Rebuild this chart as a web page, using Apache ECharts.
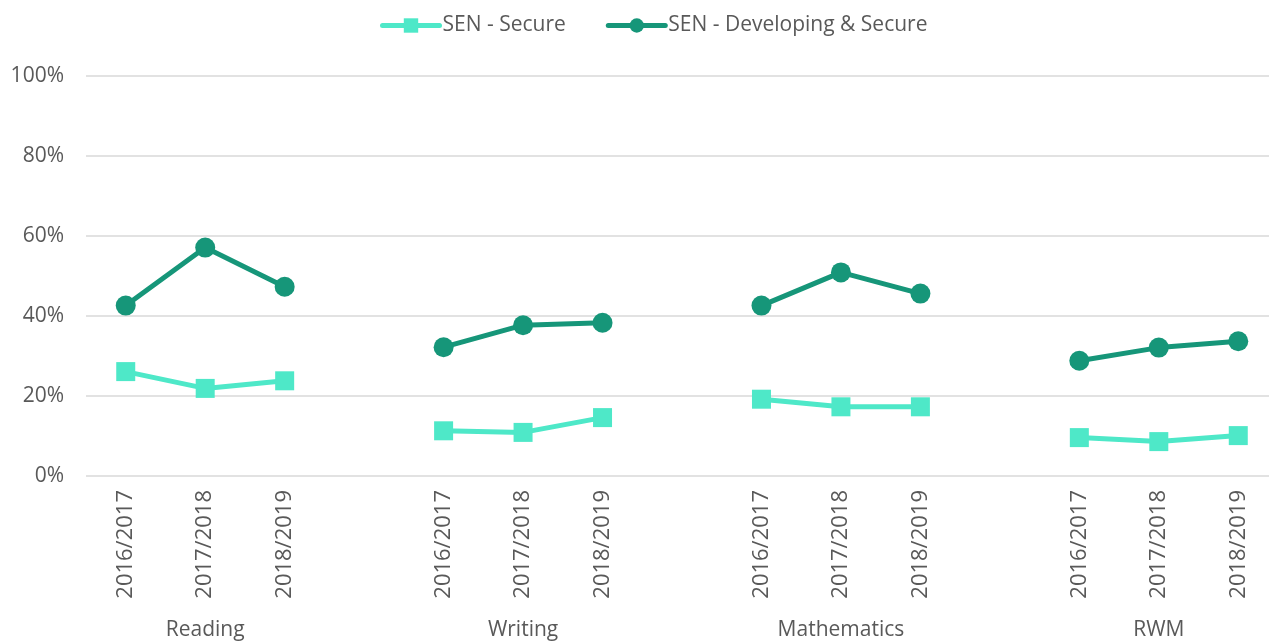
<!DOCTYPE html>
<html>
<head>
<meta charset="utf-8">
<script src="https://cdn.jsdelivr.net/npm/echarts@6/dist/echarts.min.js"></script>
<style>html,body{margin:0;padding:0;background:#fff;overflow:hidden;width:1269px;height:642px;}#chart{width:1290px;height:642px;}</style>
</head>
<body>
<div id="chart"></div>
<script>
var groups = ['Reading', 'Writing', 'Mathematics', 'RWM'];
var years = ['2016/2017', '2017/2018', '2018/2019'];
var secureValues = [26.1, 21.9, 23.8, 11.3, 10.9, 14.6, 19.2, 17.3, 17.3, 9.6, 8.6, 10.1];
var devSecureValues = [42.6, 57.1, 47.3, 32.2, 37.7, 38.3, 42.6, 50.9, 45.6, 28.8, 32.1, 33.7];
var yTicks = [0, 20, 40, 60, 80, 100];

var yearCats = [], groupCats = [], secData = [], devData = [];
groups.forEach(function (g, gi) {
  years.forEach(function (y, yi) {
    yearCats.push(y);
    groupCats.push(yi === 1 ? g : ' ');
    secData.push(secureValues[gi * years.length + yi]);
    devData.push(devSecureValues[gi * years.length + yi]);
  });
  if (gi < groups.length - 1) {
    yearCats.push(' ');
    groupCats.push(' ');
    secData.push(null);
    devData.push(null);
  }
});

var FONT = 'Open Sans';
var TXT = '#595959';
var chart = echarts.init(document.getElementById('chart'));
chart.setOption({
  animation: false,
  textStyle: { fontFamily: FONT, color: TXT },
  legend: {
    top: 10,
    left: 375,
    itemWidth: 57,
    itemHeight: 18,
    itemGap: 40,
    lineStyle: { width: 5, cap: 'round' },
    textStyle: { fontFamily: FONT, fontSize: 21, color: TXT, padding: [0, 0, 0, -2] },
    data: ['SEN - Secure', 'SEN - Developing & Secure']
  },
  grid: { left: 86, top: 76, width: 1192, height: 400 },
  xAxis: [{
    type: 'category',
    data: yearCats,
    boundaryGap: true,
    axisLine: { show: false },
    axisTick: { show: false },
    axisLabel: { interval: 0, rotate: 90, fontSize: 22, color: TXT, margin: 14, fontFamily: FONT }
  }, {
    type: 'category',
    data: groupCats,
    position: 'bottom',
    offset: 136,
    boundaryGap: true,
    axisLine: { show: false },
    axisTick: { show: false },
    axisLabel: { interval: 0, fontSize: 21, color: TXT, margin: 8, fontFamily: FONT }
  }],
  yAxis: {
    type: 'value',
    min: yTicks[0],
    max: yTicks[yTicks.length - 1],
    interval: yTicks[1] - yTicks[0],
    axisLine: { show: false },
    axisTick: { show: false },
    axisLabel: { formatter: '{value}%', fontSize: 21, color: TXT, margin: 22, fontFamily: FONT },
    splitLine: { lineStyle: { color: '#d9d9d9', width: 1.5 } }
  },
  series: [{
    name: 'SEN - Secure',
    type: 'line',
    xAxisIndex: 0,
    data: secData,
    connectNulls: false,
    symbol: 'rect',
    symbolSize: 19,
    lineStyle: { color: '#4ee8c8', width: 5 },
    itemStyle: { color: '#4ee8c8' }
  }, {
    name: 'SEN - Developing & Secure',
    type: 'line',
    xAxisIndex: 0,
    data: devData,
    connectNulls: false,
    symbol: 'circle',
    symbolSize: 20,
    lineStyle: { color: '#169679', width: 5 },
    itemStyle: { color: '#169679' }
  }]
});
</script>
</body>
</html>
